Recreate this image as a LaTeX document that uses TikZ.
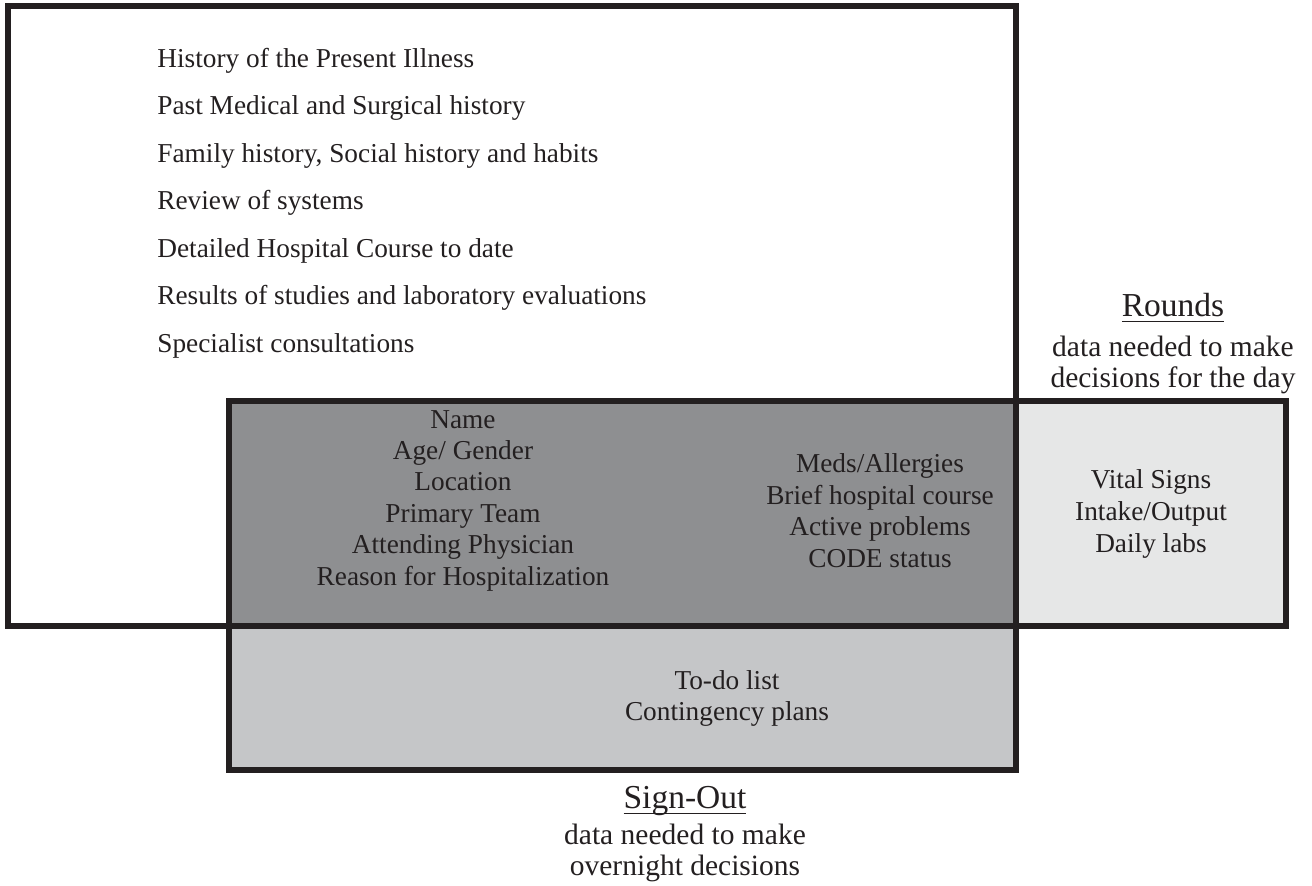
\documentclass[tikz,border=0pt]{standalone}
\usepackage{fontspec}
\setmainfont{Liberation Serif}
\usepackage{tikz}
\usetikzlibrary{positioning}

\definecolor{edgeblk}{HTML}{231F20}
\definecolor{darkfill}{HTML}{8E8F91}
\definecolor{midfill}{HTML}{C5C6C8}
\definecolor{lightfill}{HTML}{E6E7E7}

\newcommand{\ulword}[1]{\setbox0\hbox{#1}\rlap{\rule[-3pt]{\wd0}{0.75pt}}\box0}

\begin{document}
\begin{tikzpicture}[x=0.5pt,y=-0.5pt]
	\def \leftx{7.5}
	\def \midx{229}
	\def \splitx{1016}
	\def \rightx{1286}
	\def \topy{5.5}
	\def \bandtop{401}
	\def \bandbot{625.5}
	\def \lowy{769.5}
	\tikzstyle{frame}=[draw=edgeblk,line width=3pt]
	\tikzstyle{body}=[inner sep=0pt,text=edgeblk,align=center,anchor=base,font=\fontsize{13.65}{15.7}\selectfont]
	\tikzstyle{head}=[inner sep=0pt,text=edgeblk,anchor=base,font=\fontsize{16.75}{18}\selectfont]
	\tikzstyle{sub}=[inner sep=0pt,text=edgeblk,align=center,anchor=base,font=\fontsize{14.75}{15.5}\selectfont]
	\useasboundingbox (0,0) rectangle (1312,885);

	% shaded bands
	\fill[darkfill] (\midx,\bandtop) rectangle (\splitx,\bandbot);
	\fill[midfill] (\midx,\bandbot) rectangle (\splitx,\lowy);
	\fill[lightfill] (\splitx,\bandtop) rectangle (\rightx,\bandbot);

	% frames
	\draw[frame] (\leftx,\topy) rectangle (\splitx,\bandbot);
	\draw[frame] (\midx,\bandtop) rectangle (\rightx,\bandbot);
	\draw[frame] (\midx,\bandbot) rectangle (\splitx,\lowy);

	% full history (base = last line)
	\node[body,anchor=base west,align=left,font=\fontsize{13.65}{23.75}\selectfont] (history) at (157,352)
		{History of the Present Illness\\Past Medical and Surgical history\\Family history, Social history and habits\\Review of systems\\Detailed Hospital Course to date\\Results of studies and laboratory evaluations\\Specialist consultations};

	% shared core
	\node[body] (ident) at (463,585)
		{Name\\Age/ Gender\\Location\\Primary Team\\Attending Physician\\Reason for Hospitalization};
	\node[body] (course) at (880,567)
		{Meds/Allergies\\Brief hospital course\\Active problems\\CODE status};

	% rounds only
	\node[body,font=\fontsize{13.65}{16}\selectfont] (vitals) at (1151,552)
		{Vital Signs\\Intake/Output\\Daily labs};
	\node[head] (rounds) at (1173,316) {\ulword{Rounds}};
	\node[sub] (roundsnote) at (1173,387) {data needed to make\\decisions for the day};

	% sign-out only
	\node[body,font=\fontsize{13.65}{15.5}\selectfont] (todo) at (727,720)
		{To-do list\\Contingency plans};
	\node[head] (signout) at (685,808) {\ulword{Sign-Out}};
	\node[sub] (signnote) at (685,875) {data needed to make\\overnight decisions};
\end{tikzpicture}
\end{document}
